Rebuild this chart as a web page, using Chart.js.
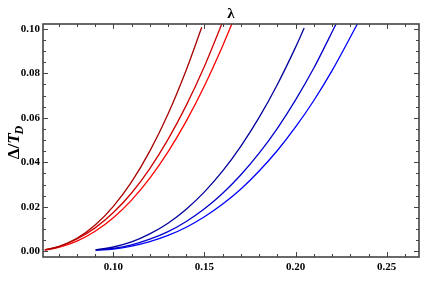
<!DOCTYPE html>
<html>
<head>
<meta charset="utf-8">
<script src="https://cdn.jsdelivr.net/npm/chart.js@4.4.1/dist/chart.umd.min.js"></script>
<style>
  html, body { margin: 0; padding: 0; background: #fff; }
  canvas { display: block; }
</style>
</head>
<body>
<canvas id="chart" width="436" height="287"></canvas>
<script>
// Värden (lambda, delta/T_D)
const red1X = [0.0624, 0.0700, 0.0800, 0.0900, 0.1000, 0.1100, 0.1200, 0.1300, 0.1400, 0.1485];
const red1Y = [0.0006, 0.0021, 0.0058, 0.0118, 0.0202, 0.0312, 0.0450, 0.0617, 0.0815, 0.1007];
const red2X = [0.0624, 0.0700, 0.0800, 0.0900, 0.1000, 0.1100, 0.1200, 0.1300, 0.1400, 0.1500, 0.1595];
const red2Y = [0.0006, 0.0021, 0.0055, 0.0105, 0.0174, 0.0262, 0.0372, 0.0503, 0.0656, 0.0832, 0.1022];
const red3X = [0.0624, 0.0700, 0.0800, 0.0900, 0.1000, 0.1100, 0.1200, 0.1300, 0.1400, 0.1500, 0.1600, 0.1650];
const red3Y = [0.0005, 0.0017, 0.0045, 0.0090, 0.0151, 0.0230, 0.0329, 0.0447, 0.0585, 0.0744, 0.0924, 0.1022];
const blue1X = [0.0903, 0.1000, 0.1100, 0.1200, 0.1300, 0.1400, 0.1500, 0.1600, 0.1700, 0.1800, 0.1900, 0.2000, 0.2047];
const blue1Y = [0.0006, 0.0019, 0.0042, 0.0078, 0.0126, 0.0189, 0.0267, 0.0361, 0.0473, 0.0602, 0.0750, 0.0918, 0.1004];
const blue2X = [0.0903, 0.1000, 0.1100, 0.1200, 0.1300, 0.1400, 0.1500, 0.1600, 0.1700, 0.1800, 0.1900, 0.2000, 0.2100, 0.2222];
const blue2Y = [0.0005, 0.0013, 0.0029, 0.0054, 0.0088, 0.0134, 0.0191, 0.0261, 0.0344, 0.0441, 0.0553, 0.0681, 0.0824, 0.1022];
const blue3X = [0.0903, 0.1000, 0.1100, 0.1200, 0.1300, 0.1400, 0.1500, 0.1600, 0.1700, 0.1800, 0.1900, 0.2000, 0.2100, 0.2200, 0.2339];
const blue3Y = [0.0005, 0.0010, 0.0023, 0.0043, 0.0071, 0.0108, 0.0155, 0.0212, 0.0280, 0.0361, 0.0453, 0.0559, 0.0678, 0.0812, 0.1022];

// Tick labels
const xTicks = [0.10, 0.15, 0.20, 0.25];
const yTicks = [0.00, 0.02, 0.04, 0.06, 0.08, 0.10];

const serif = '"Liberation Serif", "DejaVu Serif", serif';

function points(xs, ys) {
  return xs.map((x, i) => ({ x: x, y: ys[i] }));
}

function line(xs, ys, color) {
  return {
    data: points(xs, ys),
    showLine: true,
    borderColor: color,
    borderWidth: 1.3,
    pointRadius: 0,
    cubicInterpolationMode: 'monotone'
  };
}

// Ram med ticks inåt på alla sidor + titlar
const framePlugin = {
  id: 'frame',
  afterDraw(chart) {
    const ctx = chart.ctx;
    const a = chart.chartArea;
    const xs = chart.scales.x;
    const ys = chart.scales.y;
    ctx.save();
    ctx.strokeStyle = '#444';
    ctx.lineWidth = 1;
    // minor + major ticks
    ctx.beginPath();
    for (let v = 0.07; v <= 0.2601; v += 0.01) {
      const px = Math.round(xs.getPixelForValue(v)) + 0.5;
      const major = xTicks.some(t => Math.abs(t - v) < 1e-6);
      const len = major ? 5 : 3;
      ctx.moveTo(px, a.bottom); ctx.lineTo(px, a.bottom - len);
      ctx.moveTo(px, a.top); ctx.lineTo(px, a.top + len);
    }
    for (let v = 0; v <= 0.1001; v += 0.005) {
      const py = Math.round(ys.getPixelForValue(v)) + 0.5;
      const major = yTicks.some(t => Math.abs(t - v) < 1e-6);
      const len = major ? 5 : 3;
      ctx.moveTo(a.left, py); ctx.lineTo(a.left + len, py);
      ctx.moveTo(a.right, py); ctx.lineTo(a.right - len, py);
    }
    ctx.stroke();
    ctx.lineWidth = 1.6;
    ctx.strokeRect(a.left, a.top, a.right - a.left, a.bottom - a.top);

    // titel lambda
    ctx.fillStyle = '#000';
    ctx.font = 'bold 15px ' + serif;
    ctx.textAlign = 'center';
    ctx.textBaseline = 'alphabetic';
    ctx.fillText('λ', (a.left + a.right) / 2, 18);

    // y-axelns titel
    ctx.translate(19, 142);
    ctx.rotate(-Math.PI / 2);
    ctx.textAlign = 'left';
    const big = 'bold 17px ' + serif;
    const bigIt = 'italic bold 17px ' + serif;
    const small = 'italic bold 12px ' + serif;
    ctx.font = big;
    const w1 = ctx.measureText('Δ/').width;
    ctx.font = bigIt;
    const w2 = ctx.measureText('T').width;
    ctx.font = small;
    const w3 = ctx.measureText('D').width;
    let x0 = -(w1 + w2 + w3) / 2;
    ctx.font = big;
    ctx.fillText('Δ/', x0, 0);
    ctx.font = bigIt;
    ctx.fillText('T', x0 + w1, 0);
    ctx.font = small;
    ctx.fillText('D', x0 + w1 + w2 - 1, 4);
    ctx.restore();
  }
};

new Chart(document.getElementById('chart'), {
  type: 'scatter',
  data: {
    datasets: [
      line(red1X, red1Y, '#a80000'),
      line(red2X, red2Y, '#d00000'),
      line(red3X, red3Y, '#ff0000'),
      line(blue1X, blue1Y, '#00009c'),
      line(blue2X, blue2Y, '#0000cc'),
      line(blue3X, blue3Y, '#0000ff')
    ]
  },
  options: {
    responsive: false,
    animation: false,
    devicePixelRatio: 1,
    layout: { padding: { top: 24, right: 17, left: 0, bottom: 0 } },
    plugins: {
      legend: { display: false },
      tooltip: { enabled: false }
    },
    scales: {
      x: {
        type: 'linear',
        min: 0.0614,
        max: 0.2677,
        afterBuildTicks: axis => { axis.ticks = xTicks.map(v => ({ value: v })); },
        afterFit: scale => { scale.height = 30; },
        grid: { display: false, drawTicks: false },
        border: { display: false },
        ticks: {
          color: '#000',
          padding: 4,
          maxRotation: 0,
          font: { family: serif, size: 11, weight: 'bold' },
          callback: v => v.toFixed(2)
        }
      },
      y: {
        type: 'linear',
        min: -0.0026,
        max: 0.1022,
        afterBuildTicks: axis => { axis.ticks = yTicks.map(v => ({ value: v })); },
        afterFit: scale => { scale.width = 43; },
        grid: { display: false, drawTicks: false },
        border: { display: false },
        ticks: {
          color: '#000',
          padding: 3,
          font: { family: serif, size: 11, weight: 'bold' },
          callback: v => v.toFixed(2)
        }
      }
    }
  },
  plugins: [framePlugin]
});
</script>
</body>
</html>
